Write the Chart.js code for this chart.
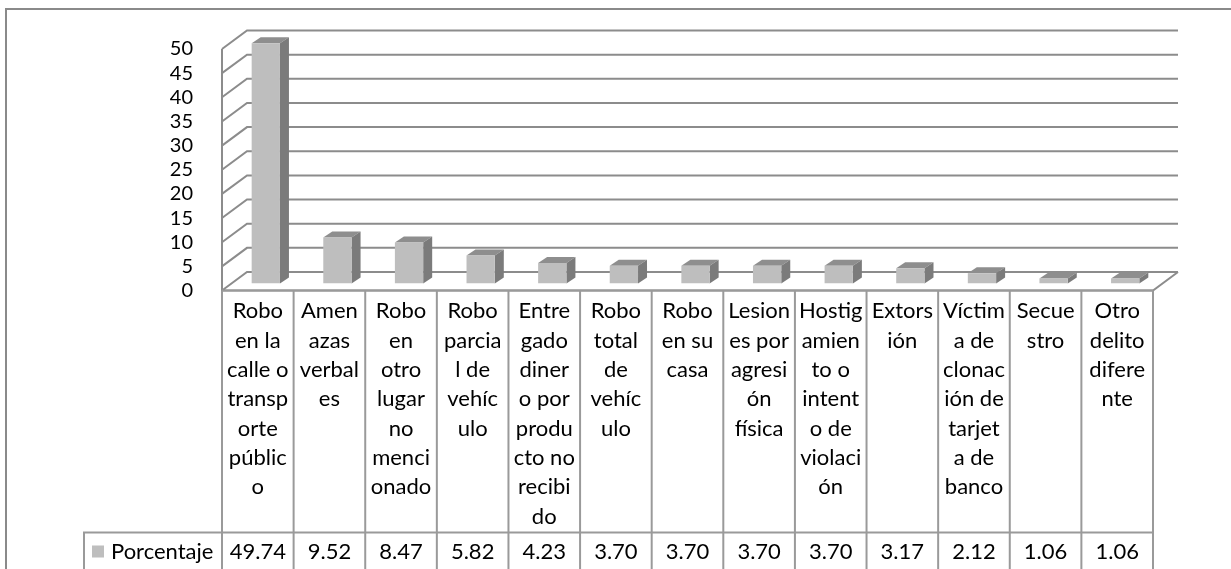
<!DOCTYPE html>
<html>
<head>
<meta charset="utf-8">
<script src="https://cdn.jsdelivr.net/npm/chart.js@4.4.1/dist/chart.umd.min.js"></script>
<style>
  body { margin: 0; background: #fff; }
</style>
</head>
<body>
<canvas id="GraficoDelitos" width="1231" height="569"></canvas>
<script>
var categorias = [
    ["Robo", "en la", "calle o", "transp", "orte", "públic", "o"],
    ["Amen", "azas", "verbal", "es"],
    ["Robo", "en", "otro", "lugar", "no", "menci", "onado"],
    ["Robo", "parcia", "l de", "vehíc", "ulo"],
    ["Entre", "gado", "diner", "o por", "produ", "cto no", "recibi", "do"],
    ["Robo", "total", "de", "vehíc", "ulo"],
    ["Robo", "en su", "casa"],
    ["Lesion", "es por", "agresi", "ón", "física"],
    ["Hostig", "amien", "to o", "intent", "o de", "violaci", "ón"],
    ["Extors", "ión"],
    ["Víctim", "a de", "clonac", "ión de", "tarjet", "a de", "banco"],
    ["Secue", "stro"],
    ["Otro", "delito", "difere", "nte"]
];
var porcentajes = [49.74, 9.52, 8.47, 5.82, 4.23, 3.70, 3.70, 3.70, 3.70, 3.17, 2.12, 1.06, 1.06];
var nombreSerie = "Porcentaje";
var marcasY = [0, 5, 10, 15, 20, 25, 30, 35, 40, 45, 50];

// desplazamientos de la perspectiva 3D respecto al plano de las barras
var FRENTE = { dx: -8, dy: 7 };
var FONDO = { dx: 17, dy: -11.5 };
var PROF = { dx: 9, dy: -6 };
var FILA_VALORES = 532.5;
var FUENTE = "Lato, 'Open Sans', sans-serif";

var tabla3D = {
    id: 'tabla3D',
    beforeDraw: function (chart) {
        var ctx = chart.ctx;
        ctx.save();
        ctx.fillStyle = '#fff';
        ctx.fillRect(0, 0, chart.width, chart.height);
        ctx.strokeStyle = '#8a8a8a';
        ctx.lineWidth = 2;
        ctx.beginPath();
        ctx.moveTo(6, chart.height);
        ctx.lineTo(6, 9);
        ctx.lineTo(chart.width, 9);
        ctx.stroke();
        ctx.restore();
    },
    beforeDatasetsDraw: function (chart) {
        var ctx = chart.ctx, area = chart.chartArea, y = chart.scales.y;
        var fl = area.left + FRENTE.dx, fr = area.right + FRENTE.dx;
        var bl = area.left + FONDO.dx, br = area.right + FONDO.dx;
        var y0 = y.getPixelForValue(0), yMax = y.getPixelForValue(y.max);
        ctx.save();
        ctx.strokeStyle = '#8c8c8c';
        ctx.lineWidth = 2;
        ctx.beginPath();
        marcasY.forEach(function (v) {
            var py = y.getPixelForValue(v);
            ctx.moveTo(fl, py + FRENTE.dy);
            ctx.lineTo(bl, py + FONDO.dy);
            ctx.lineTo(br, py + FONDO.dy);
        });
        ctx.moveTo(fl, yMax + FRENTE.dy);
        ctx.lineTo(fl, y0 + FRENTE.dy);
        ctx.lineTo(fr, y0 + FRENTE.dy);
        ctx.lineTo(br, y0 + FONDO.dy);
        ctx.stroke();

        chart.getDatasetMeta(0).data.forEach(function (barra) {
            var p = barra.getProps(['x', 'y', 'base', 'width'], true);
            var l = p.x - p.width / 2, r = p.x + p.width / 2;
            ctx.fillStyle = '#8e8e8e';
            ctx.beginPath();
            ctx.moveTo(l, p.y);
            ctx.lineTo(l + PROF.dx, p.y + PROF.dy);
            ctx.lineTo(r + PROF.dx, p.y + PROF.dy);
            ctx.lineTo(r, p.y);
            ctx.closePath();
            ctx.fill();
            ctx.fillStyle = '#7b7b7b';
            ctx.beginPath();
            ctx.moveTo(r, p.y);
            ctx.lineTo(r + PROF.dx, p.y + PROF.dy);
            ctx.lineTo(r + PROF.dx, p.base + PROF.dy);
            ctx.lineTo(r, p.base);
            ctx.closePath();
            ctx.fill();
        });
        ctx.restore();
    },
    afterDraw: function (chart) {
        var ctx = chart.ctx, area = chart.chartArea, x = chart.scales.x, y = chart.scales.y;
        var colW = (area.right - area.left) / categorias.length;
        var fl = area.left + FRENTE.dx, fr = area.right + FRENTE.dx;
        var yTop = y.getPixelForValue(0) + FRENTE.dy;
        ctx.save();
        ctx.strokeStyle = '#9a9a9a';
        ctx.lineWidth = 2;
        ctx.beginPath();
        for (var i = 0; i <= categorias.length; i++) {
            var xb = x.getPixelForValue(Math.min(i, categorias.length - 1)) + FRENTE.dx + (i < categorias.length ? -colW / 2 : colW / 2);
            ctx.moveTo(xb, yTop);
            ctx.lineTo(xb, chart.height);
        }
        ctx.moveTo(fl, yTop);
        ctx.lineTo(fr, yTop);
        ctx.moveTo(84, chart.height);
        ctx.lineTo(84, FILA_VALORES);
        ctx.lineTo(fr, FILA_VALORES);
        ctx.stroke();

        var yTexto = FILA_VALORES + 19;
        ctx.fillStyle = '#bebebe';
        ctx.fillRect(92, yTexto - 6, 12, 12);
        ctx.fillStyle = '#000';
        ctx.font = '22px ' + FUENTE;
        ctx.textBaseline = 'middle';
        ctx.textAlign = 'left';
        ctx.fillText(nombreSerie, 111, yTexto);
        ctx.textAlign = 'center';
        porcentajes.forEach(function (v, i) {
            ctx.fillText(v.toFixed(2), x.getPixelForValue(i) + FRENTE.dx, yTexto);
        });
        ctx.restore();
    }
};

new Chart(document.getElementById("GraficoDelitos"), {
    type: 'bar',
    data: {
        labels: categorias,
        datasets: [{
            label: nombreSerie,
            data: porcentajes,
            backgroundColor: "#bebebe",
            barPercentage: 0.395,
            categoryPercentage: 1
        }]
    },
    options: {
        responsive: false,
        animation: false,
        layout: { padding: { top: 42, right: 70, left: 0, bottom: 0 } },
        plugins: {
            legend: { display: false },
            tooltip: { enabled: false }
        },
        scales: {
            x: {
                grid: { display: false },
                border: { display: false },
                ticks: {
                    autoSkip: false,
                    maxRotation: 0,
                    minRotation: 0,
                    padding: 5,
                    labelOffset: FRENTE.dx,
                    color: '#000',
                    font: { family: FUENTE, size: 22, lineHeight: 1.333 }
                },
                afterFit: function (s) { s.height = 285.5; }
            },
            y: {
                min: 0,
                max: 50,
                grid: { display: false },
                border: { display: false },
                afterBuildTicks: function (s) {
                    s.ticks = marcasY.map(function (v) { return { value: v }; });
                },
                ticks: {
                    autoSkip: false,
                    padding: 29,
                    labelOffset: FRENTE.dy,
                    color: '#000',
                    font: { family: FUENTE, size: 20 }
                },
                afterFit: function (s) { s.width = 230; }
            }
        }
    },
    plugins: [tabla3D]
});
</script>
</body>
</html>
